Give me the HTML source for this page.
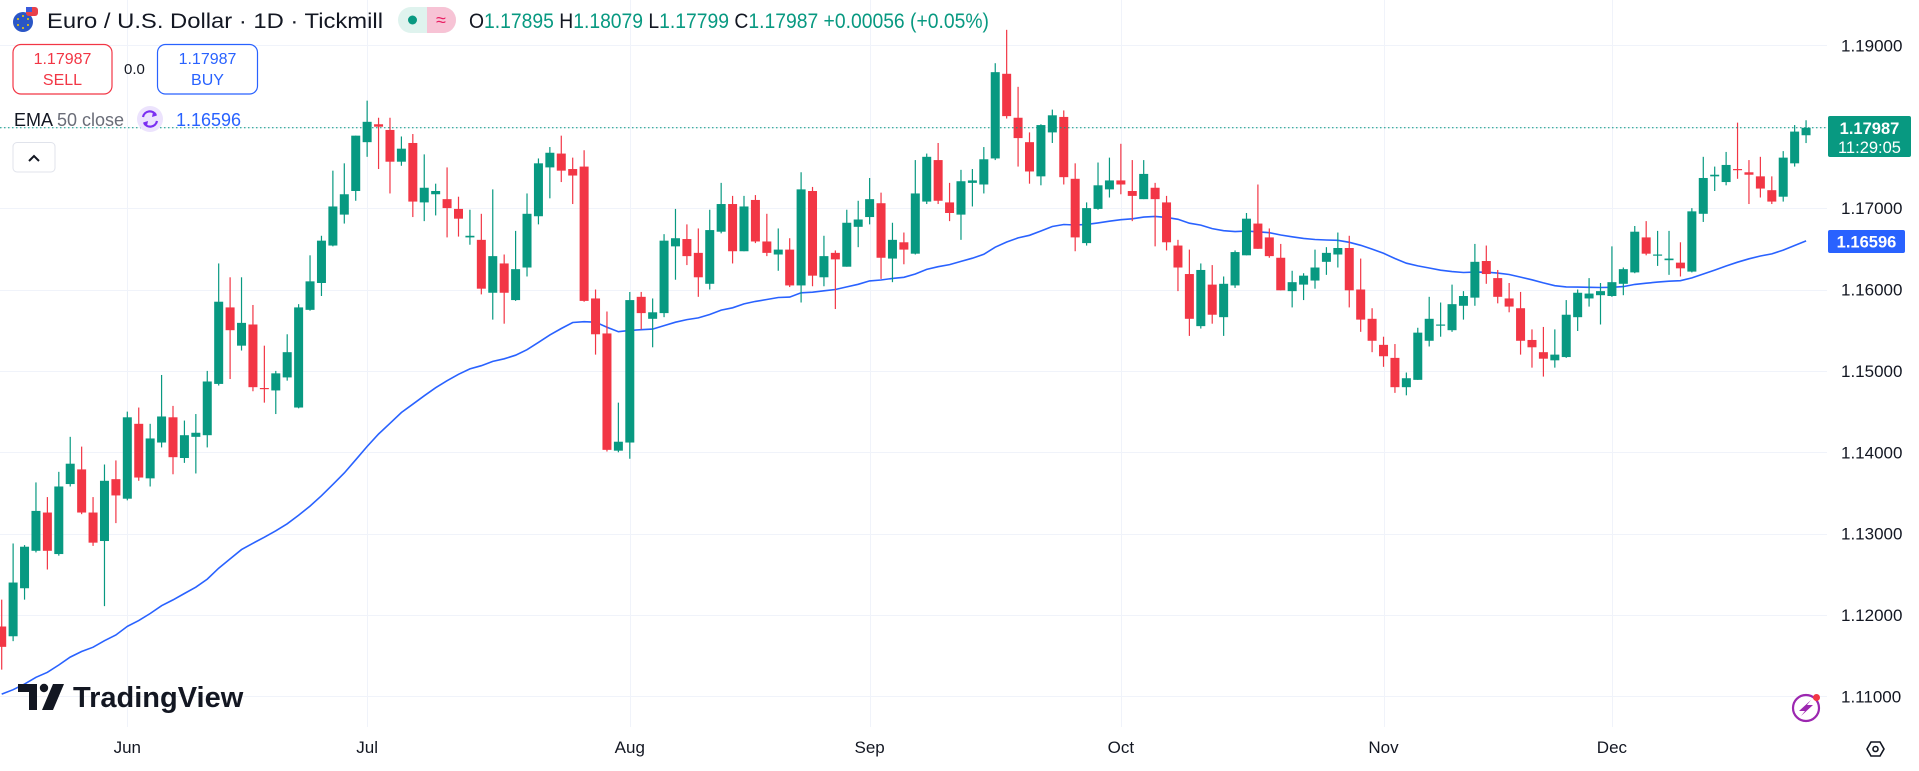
<!DOCTYPE html>
<html><head><meta charset="utf-8">
<style>
html,body{margin:0;padding:0;background:#fff;}
svg{display:block;font-family:"Liberation Sans",sans-serif;}
</style></head>
<body>
<svg id="chart" width="1919" height="771" viewBox="0 0 1919 771">
  <rect x="0" y="0" width="1919" height="771" fill="#ffffff"/>
  <g id="grid"></g>
  <g id="ema"></g>
  <g id="candles"></g>
  <line id="lastline" x1="0" x2="1827" stroke="#089981" stroke-width="1" stroke-dasharray="1.5 2.5"/>
  <g id="yaxis"></g>
  <g id="xaxis"></g>

  <!-- header -->
  <g>
    <circle cx="23" cy="22" r="10" fill="#2a56c6"/>
    <circle cx="23" cy="16" r="1" fill="#f5d000"/><circle cx="28" cy="19" r="1" fill="#f5d000"/>
    <circle cx="28" cy="25" r="1" fill="#f5d000"/><circle cx="23" cy="28" r="1" fill="#f5d000"/>
    <circle cx="18" cy="25" r="1" fill="#f5d000"/><circle cx="18" cy="19" r="1" fill="#f5d000"/>
    <rect x="26" y="7" width="12" height="9" rx="3" fill="#e8404a"/>
    <rect x="26" y="7" width="6" height="5" fill="#3b5bdb"/>
  </g>
  <text x="47" y="28" font-size="21" fill="#131722" textLength="336" lengthAdjust="spacingAndGlyphs">Euro / U.S. Dollar · 1D · Tickmill</text>
  <g>
    <rect x="398" y="7" width="58" height="26" rx="13" fill="#dff3ee"/>
    <path d="M427 7 H443 A13 13 0 0 1 443 33 H427 Z" fill="#f7c3d5"/>
    <circle cx="412.5" cy="20" r="4.5" fill="#089981"/>
    <text x="441" y="26" font-size="18" fill="#e91e63" text-anchor="middle">≈</text>
  </g>
  <text x="469" y="28" font-size="21" fill="#089981" textLength="520" lengthAdjust="spacingAndGlyphs"><tspan fill="#131722">O</tspan>1.17895 <tspan fill="#131722">H</tspan>1.18079 <tspan fill="#131722">L</tspan>1.17799 <tspan fill="#131722">C</tspan>1.17987 +0.00056 (+0.05%)</text>

  <g>
    <rect x="13" y="44.5" width="99" height="49.5" rx="8" fill="#fff" stroke="#f23645" stroke-width="1.2"/>
    <text x="62.5" y="64" font-size="16" fill="#f23645" text-anchor="middle">1.17987</text>
    <text x="62.5" y="85" font-size="16" fill="#f23645" text-anchor="middle">SELL</text>
  </g>
  <text x="124" y="74" font-size="15" fill="#131722">0.0</text>
  <g>
    <rect x="157.5" y="44.5" width="100" height="49.5" rx="8" fill="#fff" stroke="#2962ff" stroke-width="1.2"/>
    <text x="207.5" y="64" font-size="16" fill="#2962ff" text-anchor="middle">1.17987</text>
    <text x="207.5" y="85" font-size="16" fill="#2962ff" text-anchor="middle">BUY</text>
  </g>

  <text x="14" y="126" font-size="18" fill="#131722">EMA <tspan fill="#6a6d78">50 close</tspan></text>
  <g>
    <circle cx="150" cy="119" r="13" fill="#ece3fd"/>
    <path d="M143 117 A7 7 0 0 1 156 115" fill="none" stroke="#7b2ff2" stroke-width="2.2"/>
    <path d="M157 121 A7 7 0 0 1 144 123" fill="none" stroke="#7b2ff2" stroke-width="2.2"/>
    <path d="M153 112 L157 115.5 L152 117 Z" fill="#7b2ff2"/>
    <path d="M147 126 L143 122.5 L148 121 Z" fill="#7b2ff2"/>
  </g>
  <text x="176" y="126" font-size="18" fill="#2962ff">1.16596</text>
  <g>
    <rect x="13" y="142.5" width="42" height="29.5" rx="4" fill="#fff" stroke="#e0e3eb"/>
    <path d="M29 161 L34 156 L39 161" fill="none" stroke="#131722" stroke-width="2"/>
  </g>

  <!-- price labels -->
  <g>
    <rect x="1828" y="116" width="83" height="41" rx="2" fill="#089981"/>
    <text x="1869.5" y="134" font-size="16.5" font-weight="bold" fill="#fff" text-anchor="middle">1.17987</text>
    <text x="1869.5" y="153" font-size="16.5" fill="#fff" text-anchor="middle">11:29:05</text>
  </g>
  <g>
    <rect x="1828" y="230" width="77" height="23" rx="2" fill="#2962ff"/>
    <text x="1866.5" y="247.5" font-size="16.5" font-weight="bold" fill="#fff" text-anchor="middle">1.16596</text>
  </g>

  <!-- watermark -->
  <g>
    <path d="M18 684 H37 V710 H29 V692 H18 Z" fill="#131722"/>
    <circle cx="44" cy="688" r="4.2" fill="#131722"/>
    <path d="M53 684 H64 L53 710 H42 Z" fill="#131722"/>
    <text x="73" y="707" font-size="29" font-weight="bold" fill="#131722">TradingView</text>
  </g>
  <g>
    <circle cx="1806" cy="708" r="13" fill="none" stroke="#9c27b0" stroke-width="2.2"/>
    <path d="M1811 700 L1799 711 L1805 711 L1801 716 L1813 705 L1807 705 Z" fill="#9c27b0"/>
    <circle cx="1816.5" cy="697.5" r="3.5" fill="#f23645"/>
  </g>
  <g>
    <path d="M1867 749 L1871 742 H1880 L1884 749 L1880 756 H1871 Z" fill="none" stroke="#131722" stroke-width="1.6"/>
    <circle cx="1875.5" cy="749" r="2.5" fill="none" stroke="#131722" stroke-width="1.6"/>
  </g>
</svg>
<script>
// ---- data ----
const opens  = [1.1186,1.1174,1.1233,1.1279,1.1326,1.1275,1.1361,1.1379,1.1326,1.1291,1.1367,1.1343,1.1435,1.1368,1.1412,1.1443,1.1393,1.1419,1.1421,1.1484,1.1578,1.1531,1.1557,1.1479,1.1476,1.1492,1.1455,1.1575,1.1608,1.1654,1.1692,1.1721,1.1781,1.1803,1.1796,1.1757,1.1780,1.1707,1.1717,1.1711,1.1699,1.1664,1.1661,1.1596,1.1632,1.1587,1.1627,1.1690,1.1750,1.1767,1.1748,1.1751,1.1589,1.1546,1.1402,1.1412,1.1591,1.1564,1.1571,1.1653,1.1662,1.1645,1.1607,1.1671,1.1705,1.1647,1.1710,1.1659,1.1643,1.1649,1.1605,1.1721,1.1615,1.1645,1.1628,1.1677,1.1689,1.1706,1.1638,1.1658,1.1644,1.1708,1.1759,1.1707,1.1692,1.1731,1.1729,1.1761,1.1865,1.1811,1.1781,1.1739,1.1793,1.1812,1.1736,1.1657,1.1699,1.1723,1.1734,1.1721,1.1711,1.1725,1.1707,1.1654,1.1619,1.1555,1.1606,1.1566,1.1605,1.1642,1.1681,1.1664,1.1639,1.1598,1.1606,1.1611,1.1634,1.1643,1.1651,1.1600,1.1564,1.1532,1.1516,1.1480,1.1489,1.1537,1.1556,1.1550,1.1580,1.1590,1.1635,1.1614,1.1589,1.1577,1.1538,1.1523,1.1513,1.1517,1.1566,1.1589,1.1593,1.1592,1.1607,1.1621,1.1664,1.1642,1.1636,1.1633,1.1622,1.1693,1.1739,1.1732,1.1748,1.1744,1.1739,1.1722,1.1714,1.1755,1.17895];
const highs  = [1.1219,1.1288,1.1286,1.1363,1.1345,1.1376,1.1419,1.1407,1.1345,1.1385,1.1390,1.1450,1.1455,1.1435,1.1495,1.1457,1.1439,1.1447,1.1500,1.1632,1.1615,1.1615,1.1581,1.1531,1.1500,1.1545,1.1582,1.1642,1.1666,1.1746,1.1755,1.1789,1.1832,1.1811,1.1811,1.1788,1.1791,1.1766,1.1730,1.1750,1.1714,1.1698,1.1693,1.1723,1.1643,1.1672,1.1718,1.1761,1.1775,1.1789,1.1762,1.1771,1.1600,1.1573,1.1461,1.1597,1.1597,1.1589,1.1668,1.1699,1.1680,1.1675,1.1698,1.1731,1.1715,1.1715,1.1716,1.1693,1.1675,1.1663,1.1744,1.1726,1.1666,1.1648,1.1698,1.1709,1.1737,1.1719,1.1682,1.1670,1.1759,1.1767,1.1780,1.1731,1.1747,1.1748,1.1775,1.1878,1.1919,1.1849,1.1793,1.1803,1.1821,1.1820,1.1755,1.1707,1.1756,1.1762,1.1779,1.1759,1.1759,1.1731,1.1715,1.1661,1.1649,1.1632,1.1630,1.1616,1.1648,1.1694,1.1729,1.1675,1.1656,1.1623,1.1620,1.1649,1.1652,1.1670,1.1666,1.1638,1.1577,1.1542,1.1533,1.1498,1.1553,1.1591,1.1584,1.1606,1.1598,1.1656,1.1654,1.1624,1.1608,1.1597,1.1551,1.1554,1.1551,1.1587,1.1600,1.1614,1.1608,1.1653,1.1627,1.1678,1.1684,1.1672,1.1672,1.1658,1.1700,1.1763,1.1751,1.1769,1.1805,1.1759,1.1763,1.1739,1.1770,1.1802,1.18079];
const lows   = [1.1133,1.1168,1.1219,1.1277,1.1256,1.1273,1.1358,1.1324,1.1285,1.1211,1.1313,1.1341,1.1365,1.1358,1.1406,1.1373,1.1387,1.1374,1.1406,1.1482,1.1490,1.1525,1.1475,1.1461,1.1447,1.1488,1.1454,1.1574,1.1592,1.1653,1.1681,1.1709,1.1763,1.1748,1.1718,1.1752,1.1689,1.1684,1.1691,1.1664,1.1665,1.1655,1.1594,1.1563,1.1558,1.1586,1.1616,1.1680,1.1712,1.1732,1.1705,1.1585,1.1520,1.1401,1.1400,1.1392,1.1551,1.1529,1.1566,1.1612,1.1630,1.1591,1.1600,1.1669,1.1632,1.1647,1.1657,1.1641,1.1623,1.1603,1.1584,1.1604,1.1604,1.1576,1.1628,1.1652,1.1680,1.1613,1.1609,1.1631,1.1643,1.1705,1.1705,1.1684,1.1661,1.1702,1.1718,1.1759,1.1810,1.1751,1.1730,1.1728,1.1780,1.1729,1.1647,1.1654,1.1698,1.1713,1.1717,1.1684,1.1711,1.1653,1.1648,1.1598,1.1543,1.1552,1.1558,1.1543,1.1602,1.1642,1.1650,1.1639,1.1599,1.1578,1.1587,1.1601,1.1618,1.1627,1.1578,1.1548,1.1523,1.1505,1.1473,1.1470,1.1489,1.1530,1.1542,1.1548,1.1563,1.1580,1.1607,1.1583,1.1572,1.1520,1.1504,1.1493,1.1504,1.1516,1.1549,1.1579,1.1557,1.1591,1.1593,1.1620,1.1642,1.1629,1.1618,1.1616,1.1621,1.1683,1.1721,1.1728,1.1736,1.1705,1.1713,1.1705,1.1708,1.1751,1.17799];
const closes = [1.1161,1.1240,1.1284,1.1328,1.1279,1.1358,1.1386,1.1326,1.1289,1.1365,1.1347,1.1443,1.1369,1.1417,1.1444,1.1394,1.1421,1.1424,1.1487,1.1585,1.1550,1.1559,1.1480,1.1478,1.1497,1.1523,1.1578,1.1610,1.1660,1.1702,1.1717,1.1789,1.1806,1.1800,1.1757,1.1773,1.1708,1.1725,1.1721,1.1700,1.1687,1.1666,1.1601,1.1641,1.1596,1.1625,1.1693,1.1755,1.1768,1.1746,1.1740,1.1586,1.1545,1.1403,1.1413,1.1587,1.1571,1.1572,1.1660,1.1663,1.1641,1.1615,1.1673,1.1705,1.1647,1.1702,1.1659,1.1645,1.1649,1.1605,1.1723,1.1617,1.1641,1.1637,1.1682,1.1686,1.1711,1.1639,1.1661,1.1649,1.1718,1.1763,1.1709,1.1694,1.1733,1.1734,1.1760,1.1867,1.1813,1.1786,1.1745,1.1802,1.1814,1.1738,1.1664,1.1700,1.1728,1.1734,1.1729,1.1715,1.1742,1.1711,1.1658,1.1627,1.1564,1.1624,1.1569,1.1607,1.1646,1.1687,1.1650,1.1641,1.1599,1.1609,1.1617,1.1627,1.1645,1.1651,1.1599,1.1563,1.1537,1.1518,1.1480,1.1491,1.1547,1.1564,1.1557,1.1582,1.1592,1.1634,1.1619,1.1591,1.1579,1.1537,1.1529,1.1515,1.1520,1.1569,1.1596,1.1595,1.1598,1.1609,1.1625,1.1671,1.1644,1.1643,1.1638,1.1626,1.1696,1.1737,1.1741,1.1753,1.1747,1.1741,1.1724,1.1708,1.1762,1.1794,1.17987];
const emaSeed = 1.1103;
const emaPeriod = 50;
const priceTicks = [1.19,1.18,1.17,1.16,1.15,1.14,1.13,1.12,1.11];
const priceTickLabels = ["1.19000","","1.17000","1.16000","1.15000","1.14000","1.13000","1.12000","1.11000"];
const monthIdx = [11,32,55,76,98,121,141];
const monthLabels = ["Jun","Jul","Aug","Sep","Oct","Nov","Dec"];
const lastPrice = 1.17987;

// ---- axes ----
const NS = "http://www.w3.org/2000/svg";
const plotRight = 1827;
function yScale(p){ return 45.3 + (1.19 - p) * 8140; }
function xScale(i){ return 1.7 + i * 11.42; }
function mk(tag, attrs, parent){ const e=document.createElementNS(NS,tag); for(const k in attrs) e.setAttribute(k,attrs[k]); parent.appendChild(e); return e; }

const grid = document.getElementById('grid');
const yaxis = document.getElementById('yaxis');
const xaxis = document.getElementById('xaxis');
priceTicks.forEach((p,k)=>{
  const y = Math.round(yScale(p))+0.5;
  const gl = mk('line',{x1:0,x2:plotRight,y1:y,y2:y,stroke:'#f0f3fa','stroke-width':1},grid);
  
  
  if(priceTickLabels[k]){
    const t = mk('text',{x:1841,y:yScale(p)+6,'font-size':17,fill:'#131722'},yaxis);
    t.textContent = priceTickLabels[k];
    
    
  }
});
monthIdx.forEach((i,k)=>{
  const x = Math.round(xScale(i))+0.5;
  const gl = mk('line',{x1:x,x2:x,y1:0,y2:727,stroke:'#f0f3fa','stroke-width':1},grid);
  
  
  const t = mk('text',{x:xScale(i),y:753,'font-size':17,fill:'#131722','text-anchor':'middle'},xaxis);
  t.textContent = monthLabels[k];
  
  
});

// ---- candles ----
const cg = document.getElementById('candles');
for(let i=0;i<closes.length;i++){
  const up = closes[i] >= opens[i];
  const col = up ? '#089981' : '#f23645';
  const x = xScale(i);
  const g = mk('g',{},cg);
  
  
  mk('line',{x1:x,x2:x,y1:yScale(highs[i]),y2:yScale(lows[i]),stroke:col,'stroke-width':1.2},g);
  const top = yScale(Math.max(opens[i],closes[i]));
  const bot = yScale(Math.min(opens[i],closes[i]));
  mk('rect',{x:x-4.5,y:top,width:9,height:Math.max(1.2,bot-top),fill:col},g);
}

// ---- EMA ----
const k = 2/(emaPeriod+1);
let ema = emaSeed; const emaVals=[];
for(let i=0;i<closes.length;i++){ if(i>0) ema = closes[i]*k + ema*(1-k); emaVals.push(ema); }
let d = '';
emaVals.forEach((v,i)=>{ d += (i?'L':'M') + xScale(i).toFixed(1) + ' ' + yScale(v).toFixed(1) + ' '; });
const ep = mk('path',{d:d,fill:'none',stroke:'#2962ff','stroke-width':1.6},document.getElementById('ema'));



const ll = document.getElementById('lastline');
ll.setAttribute('y1', yScale(lastPrice));
ll.setAttribute('y2', yScale(lastPrice));
</script>
</body></html>
